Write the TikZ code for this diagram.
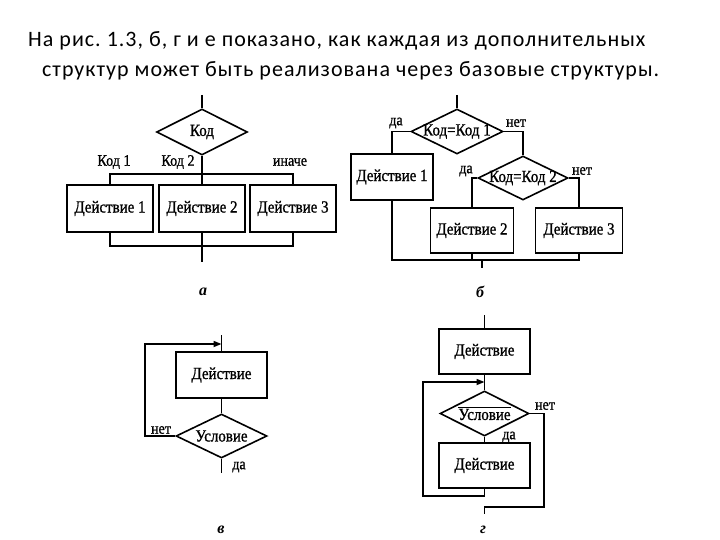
\documentclass[tikz,border=0pt]{standalone}
\usepackage{fontspec}
\setmainfont{Liberation Serif}
\newfontfamily\titlefont[LetterSpace=4.6]{Carlito}
\newfontfamily\dfont[FakeStretch=0.88,FakeBold=1]{Liberation Serif}
\usetikzlibrary{shapes.geometric,arrows.meta}
\frenchspacing
\tikzset{
  ln/.style={line width=1.6pt,line join=miter},
  boxnode/.style={draw,line width=1.6pt,rectangle,inner sep=0pt,font=\dfont\fontsize{17}{19}\selectfont},
  dia/.style={draw,line width=1.6pt,diamond,inner sep=0pt,label={[font=\dfont\fontsize{17}{19}\selectfont]center:#1}},
  lbl/.style={inner sep=0pt,font=\dfont\fontsize{16}{18}\selectfont},
  sub/.style={inner sep=0pt,font=\fontsize{16}{18}\selectfont\bfseries\itshape},
  ttl/.style={inner sep=0pt,anchor=base west,font=\titlefont\fontsize{22}{26}\selectfont},
  arr/.style={-{Triangle[length=8pt,width=6pt]}}
}
\begin{document}
\begin{tikzpicture}[x=1pt,y=-1pt]
\useasboundingbox (0,0) rectangle (720,540);
% title
\node[ttl] (t1) at (28,47) {На рис. 1.3, б, г и е показано, как каждая из дополнительных};
\node[ttl] (t2) at (42,77) {структур может быть реализована через базовые структуры.};

% ---------- a ----------
\coordinate (ain) at (202,95);
\node[dia={Код},minimum width=91pt,minimum height=46pt] (da) at (202,132) {};
\coordinate (abus) at (202,174);
\node[boxnode,minimum width=86pt,minimum height=47pt] (ba1) at (110,208.5) {Действие 1};
\node[boxnode,minimum width=86pt,minimum height=47pt] (ba2) at (202,208.5) {Действие 2};
\node[boxnode,minimum width=86pt,minimum height=47pt] (ba3) at (293,208.5) {Действие 3};
\coordinate (abot) at (202,246);
\coordinate (aout) at (202,262);
\draw[ln] (ain) -- (da.north);
\draw[ln] (da.south) -- (abus);
\draw[ln] (ba1.north) |- (abus) -| (ba3.north);
\draw[ln] (abus) -- (ba2.north);
\draw[ln] (ba1.south) |- (abot) -| (ba3.south);
\draw[ln] (ba2.south) -- (abot) -- (aout);
\node[lbl] (la1) at (114,162) {Код 1};
\node[lbl] (la2) at (178,162) {Код 2};
\node[lbl] (la3) at (290,162) {иначе};
\node[sub] (suba) at (203,292) {а};

% ---------- b ----------
\coordinate (bin) at (457,95);
\node[dia={Код=Код 1},minimum width=92pt,minimum height=45pt] (db1) at (457,131.5) {};
\node[boxnode,minimum width=82pt,minimum height=46pt] (bb1) at (392,177) {Действие 1};
\node[dia={Код=Код 2},minimum width=90pt,minimum height=44pt] (db2) at (523,178) {};
\node[boxnode,minimum width=83pt,minimum height=45pt] (bb2) at (472,230.5) {Действие 2};
\node[boxnode,minimum width=87pt,minimum height=45pt] (bb3) at (579,230.5) {Действие 3};
\coordinate (bj) at (482,260);
\coordinate (bout) at (482,268);
\draw[ln] (bin) -- (db1.north);
\draw[ln] (db1.west) -| (bb1.north);
\draw[ln] (db1.east) -| (db2.north);
\draw[ln] (db2.west) -| (bb2.north);
\draw[ln] (db2.east) -| (bb3.north);
\draw[ln] (bb1.south) |- (bj) -| (bb3.south);
\draw[ln] (bb2.south) -- (bb2.south |- bj);
\draw[ln] (bj) -- (bout);
\node[lbl] (lb1) at (396,123) {да};
\node[lbl] (lb2) at (516,123) {нет};
\node[lbl] (lb3) at (466,171) {да};
\node[lbl] (lb4) at (582,171) {нет};
\node[sub] (subb) at (480,292) {б};

% ---------- v ----------
\coordinate (vin) at (221.5,335);
\node[boxnode,minimum width=91pt,minimum height=46pt] (bv) at (221.5,375) {Действие};
\node[dia={Условие},minimum width=91pt,minimum height=44pt] (dv) at (221.5,436) {};
\coordinate (vout) at (221.5,473);
\coordinate (vl) at (145,344);
\coordinate (vm) at (221.5,344);
\draw[ln] (vin) -- (bv.north);
\draw[ln] (bv.south) -- (dv.north);
\draw[ln] (dv.south) -- (vout);
\draw[ln,arr] (dv.west) -| (vl) -- (vm);
\node[lbl] (lv1) at (161,430) {нет};
\node[lbl] (lv2) at (239,467) {да};
\node[sub] (subv) at (221,530) {в};

% ---------- g ----------
\coordinate (gin) at (484.5,315);
\node[boxnode,minimum width=91pt,minimum height=45pt] (bg1) at (484.5,351.5) {Действие};
\node[dia={$\overline{\mbox{Условие}}$},minimum width=89pt,minimum height=45pt] (dg) at (484.5,413.5) {};
\node[boxnode,minimum width=91pt,minimum height=45pt] (bg2) at (484.5,465.5) {Действие};
\coordinate (gl) at (423,496);
\coordinate (gm) at (484.5,382);
\coordinate (gr) at (544,507);
\coordinate (gout) at (484.5,514);
\draw[ln] (gin) -- (bg1.north);
\draw[ln] (bg1.south) -- (dg.north);
\draw[ln] (dg.south) -- (bg2.north);
\draw[ln,arr] (bg2.south) |- (gl) |- (gm);
\draw[ln] (dg.east) -| (gr) -| (gout);
\node[lbl] (lg1) at (545,406) {нет};
\node[lbl] (lg2) at (509,437) {да};
\node[sub] (subg) at (483,530) {г};
\end{tikzpicture}
\end{document}
